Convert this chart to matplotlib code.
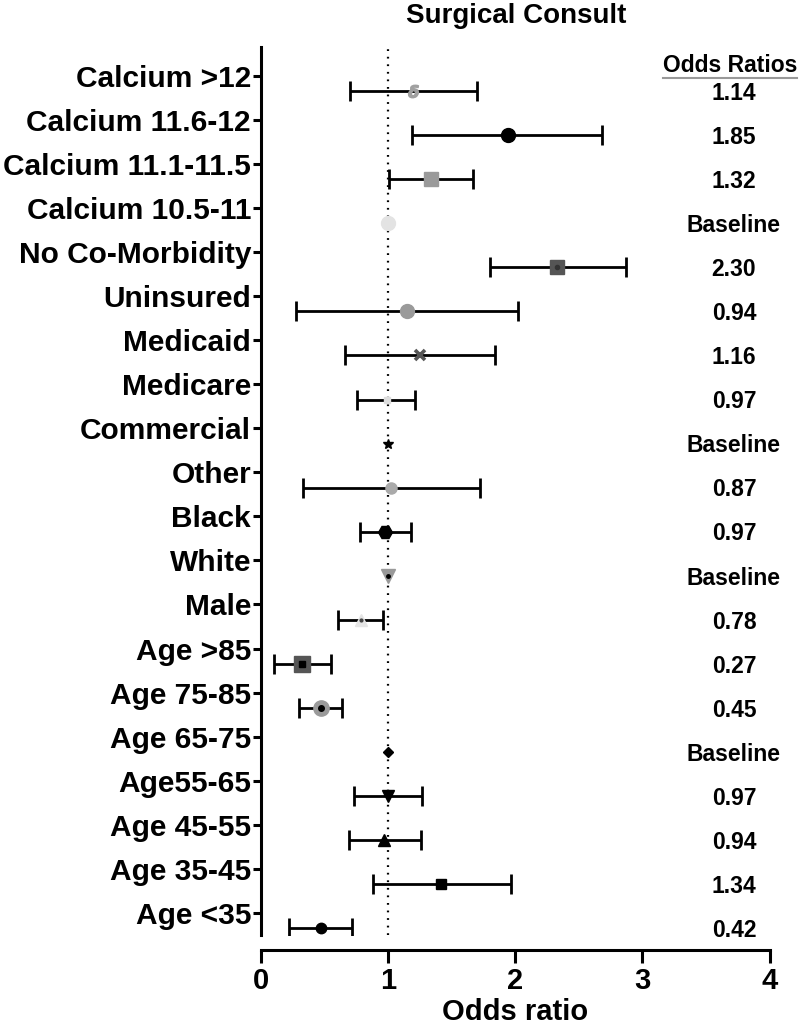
import numpy as np
import matplotlib
matplotlib.use("Agg")
import matplotlib.pyplot as plt

plt.rcParams["font.family"] = ["Liberation Sans", "DejaVu Sans"]
plt.rcParams["font.weight"] = "bold"

# ---- data (top to bottom) ----
labels = ["Calcium >12", "Calcium 11.6-12", "Calcium 11.1-11.5", "Calcium 10.5-11",
          "No Co-Morbidity", "Uninsured", "Medicaid", "Medicare", "Commercial",
          "Other", "Black", "White", "Male", "Age >85", "Age 75-85", "Age 65-75",
          "Age55-65", "Age 45-55", "Age 35-45", "Age <35"]
or_est  = [1.20, 1.94, 1.34, 1.00, 2.33, 1.15, 1.25, 0.99, 1.00, 1.02,
           0.98, 1.00, 0.79, 0.32, 0.47, 1.00, 1.00, 0.97, 1.42, 0.47]
ci_low  = [0.70, 1.19, 1.01, np.nan, 1.80, 0.28, 0.66, 0.76, np.nan, 0.33,
           0.78, np.nan, 0.61, 0.10, 0.30, np.nan, 0.73, 0.69, 0.88, 0.22]
ci_high = [1.70, 2.68, 1.67, np.nan, 2.87, 2.02, 1.84, 1.21, np.nan, 1.72,
           1.18, np.nan, 0.96, 0.55, 0.64, np.nan, 1.27, 1.26, 1.97, 0.72]
or_text = ["1.14", "1.85", "1.32", "Baseline", "2.30", "0.94", "1.16", "0.97",
           "Baseline", "0.87", "0.97", "Baseline", "0.78", "0.27", "0.45",
           "Baseline", "0.97", "0.94", "1.34", "0.42"]

# ---- marker styles per row: (marker, color, size, edge width, inner marker, inner color, inner size)
styles = [
    ("$\\delta$", "#a0a0a0", 9, 1, None, None, 0),
    ("o", "black", 10, 1, None, None, 0),
    ("s", "#9a9a9a", 10, 1, None, None, 0),
    ("o", "#e3e3e3", 10, 1, None, None, 0),
    ("s", "#555555", 10, 1, "o", "#333333", 3),
    ("o", "#9a9a9a", 10, 1, None, None, 0),
    ("x", "#555555", 7, 2.6, None, None, 0),
    ("s", "#dddddd", 5, 1, None, None, 0),
    ("*", "black", 7, 1, None, None, 0),
    ("o", "#aaaaaa", 8, 1, None, None, 0),
    ("H", "black", 10, 1, None, None, 0),
    ("v", "#999999", 10, 1, "o", "black", 2.5),
    ("^", "#e5e5e5", 9, 1, "o", "#444444", 2),
    ("s", "#555555", 11, 1, "s", "black", 4),
    ("o", "#9a9a9a", 11, 1, "o", "black", 4),
    ("D", "black", 5.5, 1, None, None, 0),
    ("v", "black", 8, 1, None, None, 0),
    ("^", "black", 8, 1, None, None, 0),
    ("s", "black", 7.5, 1, None, None, 0),
    ("o", "black", 7.5, 1, None, None, 0),
]

ypos = np.arange(len(labels))
tick_pos = ypos - 0.35

fig = plt.figure(figsize=(8, 10.3), dpi=100)
ax = fig.add_axes([0.326, 0.0922, 0.636, 0.8622])

ax.axvline(1, color="black", lw=1.6, ls=(0, (0.8, 2.6)), zorder=1)

for i in range(len(labels)):
    if not np.isnan(ci_low[i]):
        ax.errorbar([or_est[i]], [ypos[i]],
                    xerr=[[or_est[i] - ci_low[i]], [ci_high[i] - or_est[i]]],
                    fmt="none", ecolor="black", elinewidth=2, capsize=7,
                    capthick=2, zorder=2)
    m, c, s, mew, im, ic, isz = styles[i]
    ax.plot(or_est[i], ypos[i], marker=m, color=c, ms=s, mec=c, mew=mew,
            ls="none", zorder=3)
    if im is not None:
        ax.plot(or_est[i], ypos[i], marker=im, color=ic, ms=isz, mec=ic, ls="none", zorder=4)
    ax.text(3.72, ypos[i] + 0.05, or_text[i], ha="center", va="center",
            fontsize=16.5, fontweight="bold")

hdr = ax.text(3.69, -0.58, "Odds Ratios", ha="center", va="center",
              fontsize=16.5, fontweight="bold")

ax.set_xlim(0, 4)
ax.set_ylim(19.15, -1.0)
ax.set_xticks([0, 1, 2, 3, 4])
ax.set_yticks(tick_pos)
ax.set_yticklabels(labels, fontsize=21.5, fontweight="bold")
ax.tick_params(axis="x", labelsize=21, width=2.2, length=9, pad=3)
ax.tick_params(axis="y", width=2.2, length=6, pad=1)
for lab in ax.get_xticklabels():
    lab.set_fontweight("bold")

ax.spines["top"].set_visible(False)
ax.spines["right"].set_visible(False)
ax.spines["left"].set_linewidth(2.2)
ax.spines["bottom"].set_linewidth(2.2)
ax.spines["bottom"].set_position(("outward", 11))

ax.set_xlabel("Odds ratio", fontsize=21, fontweight="bold", labelpad=2)
fig.text(0.645, 0.984, "Surgical Consult", ha="center", va="center",
         fontsize=20, fontweight="bold")

# underline for the "Odds Ratios" header
fig.canvas.draw()
bb = hdr.get_window_extent().transformed(ax.transData.inverted())
ax.plot([bb.x0, bb.x1], [bb.y0 + 0.02, bb.y0 + 0.02], color="#999999", lw=1.5,
        clip_on=False, zorder=2)

fig.savefig("out.png", dpi=100)
